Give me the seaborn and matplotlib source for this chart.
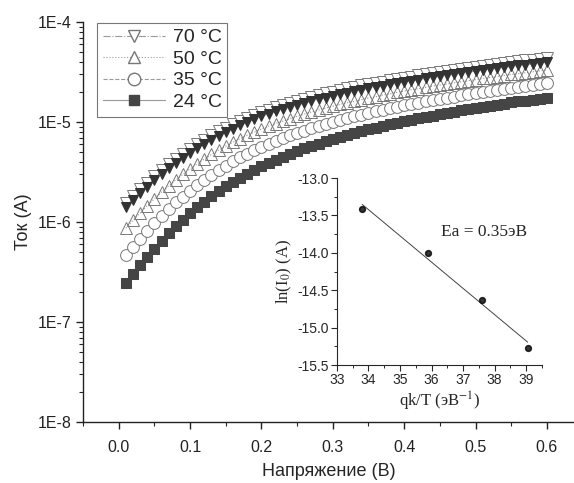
import numpy as np
import seaborn as sns
import matplotlib.pyplot as plt
import matplotlib.ticker as mticker
import matplotlib.transforms as mtransforms
from matplotlib.lines import Line2D

# Voltage (V), 0.01 V step
voltage = [0.01, 0.02, 0.03, 0.04, 0.05, 0.06, 0.07, 0.08, 0.09, 0.10,
           0.11, 0.12, 0.13, 0.14, 0.15, 0.16, 0.17, 0.18, 0.19, 0.20,
           0.21, 0.22, 0.23, 0.24, 0.25, 0.26, 0.27, 0.28, 0.29, 0.30,
           0.31, 0.32, 0.33, 0.34, 0.35, 0.36, 0.37, 0.38, 0.39, 0.40,
           0.41, 0.42, 0.43, 0.44, 0.45, 0.46, 0.47, 0.48, 0.49, 0.50,
           0.51, 0.52, 0.53, 0.54, 0.55, 0.56, 0.57, 0.58, 0.59, 0.60]

# Current (A) per temperature
i_24 = [2.45e-7, 3.02e-7, 3.70e-7, 4.50e-7, 5.43e-7, 6.50e-7, 7.71e-7, 9.06e-7, 1.05e-6, 1.22e-6,
        1.40e-6, 1.60e-6, 1.81e-6, 2.03e-6, 2.27e-6, 2.52e-6, 2.78e-6, 3.05e-6, 3.33e-6, 3.61e-6,
        3.91e-6, 4.21e-6, 4.51e-6, 4.82e-6, 5.13e-6, 5.45e-6, 5.77e-6, 6.10e-6, 6.43e-6, 6.76e-6,
        7.10e-6, 7.43e-6, 7.76e-6, 8.11e-6, 8.45e-6, 8.79e-6, 9.14e-6, 9.48e-6, 9.84e-6, 1.02e-5,
        1.05e-5, 1.09e-5, 1.12e-5, 1.16e-5, 1.20e-5, 1.23e-5, 1.27e-5, 1.31e-5, 1.34e-5, 1.38e-5,
        1.42e-5, 1.46e-5, 1.49e-5, 1.53e-5, 1.57e-5, 1.61e-5, 1.64e-5, 1.68e-5, 1.72e-5, 1.76e-5]
i_35 = [4.68e-7, 5.66e-7, 6.82e-7, 8.18e-7, 9.75e-7, 1.15e-6, 1.35e-6, 1.57e-6, 1.80e-6, 2.06e-6,
        2.34e-6, 2.65e-6, 2.97e-6, 3.31e-6, 3.66e-6, 4.04e-6, 4.43e-6, 4.81e-6, 5.21e-6, 5.64e-6,
        6.05e-6, 6.47e-6, 6.90e-6, 7.35e-6, 7.76e-6, 8.20e-6, 8.65e-6, 9.10e-6, 9.57e-6, 1.00e-5,
        1.05e-5, 1.09e-5, 1.14e-5, 1.19e-5, 1.23e-5, 1.28e-5, 1.32e-5, 1.37e-5, 1.42e-5, 1.47e-5,
        1.51e-5, 1.56e-5, 1.61e-5, 1.66e-5, 1.70e-5, 1.75e-5, 1.80e-5, 1.85e-5, 1.90e-5, 1.95e-5,
        2.00e-5, 2.05e-5, 2.10e-5, 2.15e-5, 2.20e-5, 2.25e-5, 2.30e-5, 2.36e-5, 2.40e-5, 2.46e-5]
i_50 = [8.71e-7, 1.04e-6, 1.23e-6, 1.46e-6, 1.71e-6, 1.99e-6, 2.30e-6, 2.64e-6, 3.00e-6, 3.40e-6,
        3.82e-6, 4.27e-6, 4.74e-6, 5.24e-6, 5.75e-6, 6.28e-6, 6.82e-6, 7.38e-6, 7.94e-6, 8.51e-6,
        9.10e-6, 9.66e-6, 1.02e-5, 1.08e-5, 1.14e-5, 1.20e-5, 1.26e-5, 1.32e-5, 1.38e-5, 1.44e-5,
        1.50e-5, 1.56e-5, 1.61e-5, 1.67e-5, 1.74e-5, 1.79e-5, 1.86e-5, 1.91e-5, 1.98e-5, 2.04e-5,
        2.10e-5, 2.16e-5, 2.22e-5, 2.29e-5, 2.34e-5, 2.40e-5, 2.47e-5, 2.53e-5, 2.59e-5, 2.66e-5,
        2.73e-5, 2.79e-5, 2.85e-5, 2.92e-5, 2.99e-5, 3.05e-5, 3.11e-5, 3.18e-5, 3.25e-5, 3.32e-5]
i_70 = [1.41e-6, 1.66e-6, 1.94e-6, 2.25e-6, 2.61e-6, 3.01e-6, 3.44e-6, 3.90e-6, 4.39e-6, 4.91e-6,
        5.47e-6, 6.05e-6, 6.67e-6, 7.31e-6, 7.96e-6, 8.61e-6, 9.31e-6, 9.98e-6, 1.07e-5, 1.14e-5,
        1.21e-5, 1.28e-5, 1.35e-5, 1.42e-5, 1.48e-5, 1.55e-5, 1.62e-5, 1.69e-5, 1.76e-5, 1.83e-5,
        1.90e-5, 1.97e-5, 2.04e-5, 2.11e-5, 2.18e-5, 2.24e-5, 2.31e-5, 2.38e-5, 2.45e-5, 2.52e-5,
        2.59e-5, 2.66e-5, 2.73e-5, 2.80e-5, 2.87e-5, 2.94e-5, 3.01e-5, 3.08e-5, 3.15e-5, 3.23e-5,
        3.31e-5, 3.38e-5, 3.45e-5, 3.53e-5, 3.61e-5, 3.68e-5, 3.76e-5, 3.83e-5, 3.91e-5, 3.99e-5]

# Arrhenius inset
inv_kt = [33.8, 35.9, 37.6, 39.05]
ln_i0 = [-13.42, -14.0, -14.63, -15.27]

main_yticks = [1e-8, 1e-7, 1e-6, 1e-5, 1e-4]
main_ytick_labels = ["1E-8", "1E-7", "1E-6", "1E-5", "1E-4"]

sns.set_style("ticks")
plt.rcParams["font.family"] = ["Liberation Sans", "DejaVu Sans"]
plt.rcParams["mathtext.fontset"] = "stix"

fig = plt.figure(figsize=(5.74, 4.83), dpi=100)
ax = fig.add_axes([0.1446, 0.1263, 0.8554, 0.828])

dark = "#454545"
edge = "#777777"

# 24 C - filled squares, solid line
sns.lineplot(x=voltage, y=i_24, ax=ax, color="#999999", linewidth=0.8, linestyle="-",
             marker="s", markersize=7, markerfacecolor=dark, markeredgecolor=dark)
# 35 C - open circles, dashed
sns.lineplot(x=voltage, y=i_35, ax=ax, color="#999999", linewidth=0.8, linestyle="--",
             marker="o", markersize=8.5, markerfacecolor="white", markeredgecolor=edge,
             markeredgewidth=0.7)
# 50 C - open up triangles, dotted
sns.lineplot(x=voltage, y=i_50, ax=ax, color="#999999", linewidth=0.8, linestyle=":",
             marker="^", markersize=8.5, markerfacecolor="none", markeredgecolor=edge,
             markeredgewidth=0.7)
# 70 C - open down triangles with filled ones underneath
shift_up = mtransforms.offset_copy(ax.transData, fig=fig, x=0, y=3.0, units="points")
ax.plot(voltage, i_70, transform=shift_up, linestyle="none", marker="v", markersize=8.5,
        markerfacecolor="white", markeredgecolor=edge, markeredgewidth=0.7)
sns.lineplot(x=voltage, y=i_70, ax=ax, color="#999999", linewidth=0.8, linestyle="-.",
             marker="v", markersize=6.5, markerfacecolor="#333333", markeredgecolor="#333333")

ax.set_yscale("log")
ax.set_ylim(1e-8, 1e-4)
ax.set_xlim(-0.05, 0.638)
ax.set_yticks(main_yticks)
ax.set_yticklabels(main_ytick_labels)
ax.yaxis.set_minor_locator(mticker.LogLocator(base=10, subs=np.arange(2, 10)))
ax.yaxis.set_minor_formatter(mticker.NullFormatter())
ax.set_xticks([0.0, 0.1, 0.2, 0.3, 0.4, 0.5, 0.6])
ax.xaxis.set_major_formatter(mticker.FormatStrFormatter("%.1f"))
ax.xaxis.set_minor_locator(mticker.MultipleLocator(0.05))
ax.tick_params(which="major", direction="out", length=5, width=1, labelsize=11.5, colors="#222222")
ax.tick_params(which="minor", direction="out", length=3, width=0.8)
ax.tick_params(axis="x", pad=8)
for side in ["top", "right"]:
    ax.spines[side].set_visible(False)
for side in ["left", "bottom"]:
    ax.spines[side].set_linewidth(1.0)
    ax.spines[side].set_color("#222222")

ax.set_xlabel("Напряжение (В)", fontsize=13, labelpad=6)
ax.set_ylabel("Ток (A)", fontsize=13, labelpad=4)

handles = [
    Line2D([], [], color="#999999", lw=0.8, ls="-.", marker="v", markersize=9,
           markerfacecolor="white", markeredgecolor=edge),
    Line2D([], [], color="#999999", lw=0.8, ls=":", marker="^", markersize=9,
           markerfacecolor="white", markeredgecolor=edge),
    Line2D([], [], color="#999999", lw=0.8, ls="--", marker="o", markersize=9,
           markerfacecolor="white", markeredgecolor=edge),
    Line2D([], [], color="#999999", lw=0.8, ls="-", marker="s", markersize=7.5,
           markerfacecolor=dark, markeredgecolor=dark),
]
leg = ax.legend(handles, ["70 °C", "50 °C", "35 °C", "24 °C"], loc="upper left",
                bbox_to_anchor=(0.028, 0.998), borderaxespad=0, fontsize=14,
                frameon=True, fancybox=False, handlelength=3.2, handletextpad=0.4,
                labelspacing=0.2, borderpad=0.3)
leg.get_frame().set_edgecolor("#555555")
leg.get_frame().set_linewidth(0.8)

# Inset
ins = fig.add_axes([0.587, 0.2443, 0.357, 0.387])
ins.set_facecolor("none")
sns.regplot(x=inv_kt, y=ln_i0, ax=ins, ci=None, truncate=True,
            scatter_kws={"s": 18, "color": "black", "zorder": 3},
            line_kws={"color": "#444444", "linewidth": 0.7})
ins.set_xlim(33, 39.5)
ins.set_ylim(-15.5, -13.0)
ins.set_xticks([33, 34, 35, 36, 37, 38, 39])
ins.set_yticks([-15.5, -15.0, -14.5, -14.0, -13.5, -13.0])
ins.yaxis.set_major_formatter(mticker.FormatStrFormatter("%.1f"))
ins.xaxis.set_minor_locator(mticker.MultipleLocator(0.5))
ins.yaxis.set_minor_locator(mticker.MultipleLocator(0.25))
ins.tick_params(which="major", direction="out", length=4, width=0.8, labelsize=10, pad=2)
ins.tick_params(which="minor", direction="out", length=2.5, width=0.7)
for side in ["top", "right"]:
    ins.spines[side].set_visible(False)
for side in ["left", "bottom"]:
    ins.spines[side].set_linewidth(0.8)
ins.set_xlabel("qk/T (эВ$^{\\mathrm{-1}}$)", family="Liberation Serif", fontsize=12, labelpad=2)
ins.set_ylabel("ln(I$_{\\mathrm{0}}$) (A)", family="Liberation Serif", fontsize=12, labelpad=2)
ins.text(36.3, -13.72, "Ea = 0.35эВ", family="Liberation Serif", fontsize=12.5, va="center")

fig.savefig("out.png", dpi=100)
